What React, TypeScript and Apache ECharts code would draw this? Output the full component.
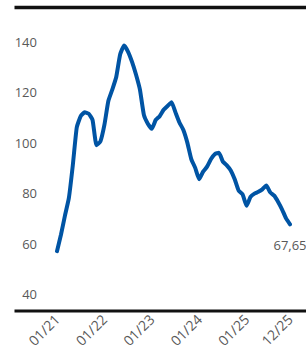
import React, { useEffect, useRef } from "react";
import * as echarts from "echarts";

const months: string[] = [];
for (let y = 21; y <= 25; y++) {
  for (let m = 1; m <= 12; m++) {
    months.push(String(m).padStart(2, "0") + "/" + y);
  }
}

const values: number[] = [
  57, 63.5, 71, 78, 91, 106, 110.5, 112, 111.5, 109, 99, 100.5,
  107, 116.5, 121, 126, 135, 138.5, 136, 132, 127, 121, 111, 107.5,
  105.5, 109, 110.5, 113, 114.5, 116, 112, 108, 105, 100, 93.5, 90,
  85.5, 88.5, 90.5, 93.5, 95.5, 96, 92.5, 91, 89, 85.5, 81, 79.5,
  75, 78.5, 79.8, 80.5, 81.5, 83, 80.3, 79, 76.5, 73.5, 70, 67.65,
];

const shownLabelIdx = [0, 12, 24, 36, 48, 59];
const lastLabel = "67,65";

export default function App() {
  const ref = useRef<HTMLDivElement>(null);
  useEffect(() => {
    if (!ref.current) return;
    const chart = echarts.init(ref.current, null, { renderer: "svg" });
    const font = "'Open Sans', 'Noto Sans', sans-serif";
    const data = values.map((v, i) =>
      i === values.length - 1
        ? {
            value: v,
            label: {
              show: true,
              position: "bottom",
              distance: 14,
              formatter: lastLabel,
              color: "#595959",
              fontSize: 13,
              fontFamily: font,
            },
          }
        : v
    );
    chart.setOption({
      animation: false,
      grid: { left: 57, right: 16, top: 41.7, bottom: 51.7 },
      xAxis: {
        type: "category",
        data: months,
        boundaryGap: false,
        offset: 12.6,
        axisLine: { show: false },
        axisTick: { show: false },
        splitLine: { show: false },
        axisLabel: {
          interval: (i: number) => shownLabelIdx.includes(i),
          rotate: 45,
          margin: 10,
          color: "#595959",
          fontSize: 14,
          fontFamily: font,
        },
      },
      yAxis: {
        type: "value",
        min: 40,
        max: 140,
        interval: 20,
        axisLine: { show: false },
        axisTick: { show: false },
        splitLine: { show: false },
        axisLabel: {
          margin: 20,
          color: "#595959",
          fontSize: 13,
          fontFamily: font,
        },
      },
      graphic: [
        {
          type: "line",
          shape: { x1: 14.5, y1: 7.5, x2: 306, y2: 7.5 },
          style: { stroke: "#111", lineWidth: 3.3 },
        },
        {
          type: "line",
          shape: { x1: 14.5, y1: 311, x2: 306, y2: 311 },
          style: { stroke: "#111", lineWidth: 3 },
        },
      ],
      series: [
        {
          type: "line",
          data,
          showSymbol: true,
          symbol: "circle",
          symbolSize: 0,
          smooth: 0.15,
          lineStyle: { color: "#0054a4", width: 4, cap: "round", join: "round" },
          itemStyle: { color: "#0054a4" },
        },
      ],
    });
    return () => chart.dispose();
  }, []);
  return (
    <div
      ref={ref}
      style={{ position: "absolute", left: 0, top: 0, width: 306, height: 350 }}
    />
  );
}
